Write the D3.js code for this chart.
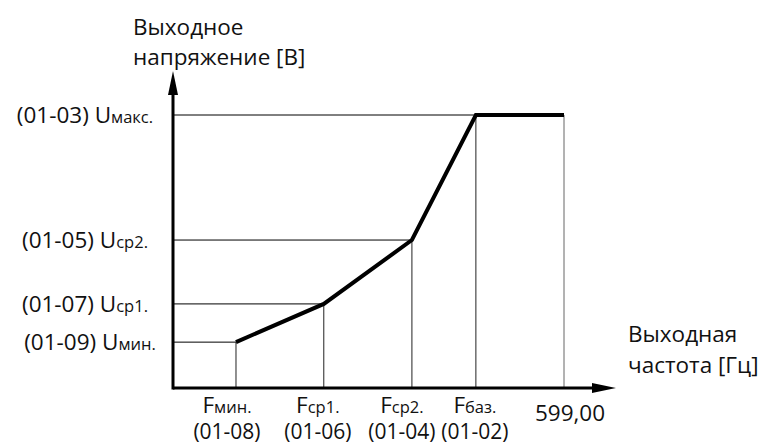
<!DOCTYPE html>
<html>
<head>
<meta charset="utf-8">
<script src="https://cdn.jsdelivr.net/npm/d3@7/dist/d3.min.js"></script>
<style>
  html, body { margin: 0; padding: 0; background: #fff; }
  svg text { font-family: "Open Sans", Lato, sans-serif; fill: #111; }
</style>
</head>
<body>
<svg id="chart" width="760" height="446"></svg>
<script>
// ---- data ----
const freqValues = [96.5, 231, 366, 464, 599];
const voltValues = [16.8, 30.8, 54.2, 100, 100];
const freqMain = ["F", "F", "F", "F", "599,00"];
const freqSub = ["мин.", "ср1.", "ср2.", "баз.", ""];
const freqCodes = ["(01-08)", "(01-06)", "(01-04)", "(01-02)", ""];
const voltLevels = [16.8, 30.8, 54.2, 100];
const voltCodes = ["(01-09)", "(01-07)", "(01-05)", "(01-03)"];
const voltSub = ["мин.", "ср1.", "ср2.", "макс."];
const yTitle = ["Выходное", "напряжение [В]"];
const xTitle = ["Выходная", "частота [Гц]"];

// ---- layout ----
const svg = d3.select("#chart");
const x = d3.scaleLinear().domain([0, 599]).range([173, 564]);
const y = d3.scaleLinear().domain([0, 100]).range([388, 115]);
const x0 = x(0), y0 = y(0);
const mainSize = 22.5, subSize = 16.5, codeSize = 21;

// thin guide lines
const g = svg.append("g");
voltLevels.forEach((v, i) => {
  const xe = i === 3 ? x(freqValues[4]) : x(freqValues[i]);
  g.append("line").attr("x1", x0).attr("x2", xe).attr("y1", y(v)).attr("y2", y(v))
    .attr("stroke", "#000").attr("stroke-width", 1);
});
freqValues.forEach((f, i) => {
  g.append("line").attr("x1", x(f)).attr("x2", x(f)).attr("y1", y0).attr("y2", y(voltValues[i]))
    .attr("stroke", i === 4 ? "#666" : "#222").attr("stroke-width", 1);
});

// characteristic curve
const pts = freqValues.map((f, i) => [f, voltValues[i]]);
svg.append("path")
  .attr("d", d3.line().x(d => x(d[0])).y(d => y(d[1]))(pts))
  .attr("fill", "none").attr("stroke", "#000").attr("stroke-width", 4)
  .attr("stroke-linejoin", "miter");

// axes
const ax = svg.append("g");
ax.append("line").attr("x1", x0).attr("x2", 596).attr("y1", y0).attr("y2", y0)
  .attr("stroke", "#000").attr("stroke-width", 3);
ax.append("line").attr("x1", x0).attr("x2", x0).attr("y1", y0 + 1.5).attr("y2", 92)
  .attr("stroke", "#000").attr("stroke-width", 3);
ax.append("path").attr("d", `M${x0 - 5},95 L${x0},71 L${x0 + 5},95 Z`).attr("fill", "#000");
ax.append("path").attr("d", `M592,${y0 - 5} L616,${y0} L592,${y0 + 5} Z`).attr("fill", "#000");

// y labels
const yLabX = [90, 85, 85, 85];
voltLevels.forEach((v, i) => {
  const t = svg.append("text").attr("x", yLabX[i]).attr("y", y(v) + 8)
    .attr("text-anchor", "middle").attr("font-size", mainSize);
  t.append("tspan").text(voltCodes[i] + " U");
  t.append("tspan").attr("font-size", subSize).text(voltSub[i]);
});

// x labels
const xDx = [-9, -6, -10, -1, 6];
freqValues.forEach((f, i) => {
  const cx = x(f) + xDx[i];
  const t = svg.append("text").attr("x", cx).attr("y", i === 4 ? 421 : 413)
    .attr("text-anchor", "middle").attr("font-size", mainSize);
  t.append("tspan").text(freqMain[i]);
  if (freqSub[i]) t.append("tspan").attr("font-size", subSize).text(freqSub[i]);
  if (freqCodes[i]) {
    svg.append("text").attr("x", cx).attr("y", 439).attr("text-anchor", "middle")
      .attr("font-size", codeSize).text(freqCodes[i]);
  }
});

// titles
yTitle.forEach((s, i) => {
  svg.append("text").attr("x", 133).attr("y", 35 + i * 30).attr("font-size", mainSize).text(s);
});
xTitle.forEach((s, i) => {
  svg.append("text").attr("x", 628).attr("y", 342 + i * 31).attr("font-size", mainSize).text(s);
});
</script>
</body>
</html>
